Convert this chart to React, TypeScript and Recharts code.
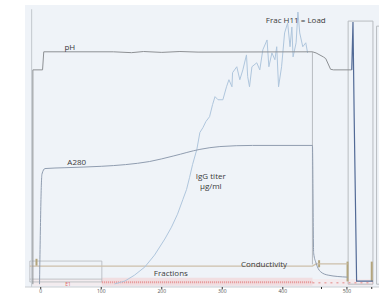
import React from 'react';
import {
  ComposedChart, Line, XAxis, YAxis, CartesianGrid, ReferenceArea, ReferenceLine, ReferenceDot,
} from 'recharts';

// x: run volume (ml), y: relative signal (% of full scale)
const phData = [
  { x: -13, y: 1 }, { x: -13, y: 77 }, { x: 3, y: 77 }, { x: 5, y: 83.4 },
  { x: 120, y: 83.4 }, { x: 150, y: 83.1 }, { x: 170, y: 83.5 }, { x: 200, y: 83.2 },
  { x: 230, y: 83.5 }, { x: 260, y: 83.3 }, { x: 449, y: 83.4 }, { x: 455, y: 83 },
  { x: 467, y: 81.6 }, { x: 471, y: 81 }, { x: 479, y: 77.2 }, { x: 484, y: 77 },
  { x: 514, y: 77 },
];
const washData = [
  { x: 514, y: 77 }, { x: 516, y: 94 }, { x: 518, y: 60 }, { x: 522, y: 2.1 }, { x: 549, y: 2.1 },
];
const a280Data = [
  { x: -2, y: 1 }, { x: 2, y: 40 }, { x: 7, y: 42 }, { x: 40, y: 42.3 }, { x: 100, y: 42.8 },
  { x: 140, y: 43.4 }, { x: 180, y: 44.5 }, { x: 220, y: 46.5 }, { x: 263, y: 48.8 },
  { x: 296, y: 49.8 }, { x: 350, y: 50.2 }, { x: 449, y: 50.2 }, { x: 451, y: 12 },
  { x: 455, y: 8.5 }, { x: 462, y: 5.5 }, { x: 475, y: 4.2 }, { x: 507, y: 3.5 },
];
const iggData = [
  { x: 122, y: 1.1 }, { x: 139, y: 2.1 }, { x: 155, y: 4.2 }, { x: 172, y: 7.1 }, { x: 188, y: 11.3 },
  { x: 205, y: 17 }, { x: 216, y: 21.2 }, { x: 226, y: 25.8 }, { x: 235, y: 31.1 }, { x: 241, y: 34.6 },
  { x: 246, y: 38.9 }, { x: 251, y: 43.5 }, { x: 258, y: 48.8 }, { x: 263, y: 54.8 }, { x: 268, y: 56.5 },
  { x: 273, y: 58.7 }, { x: 279, y: 60.4 }, { x: 284, y: 64.7 }, { x: 288, y: 67.5 }, { x: 293, y: 66.4 },
  { x: 301, y: 66.4 }, { x: 307, y: 71 }, { x: 311, y: 73.5 }, { x: 316, y: 71 }, { x: 317, y: 76 },
  { x: 324, y: 78.1 }, { x: 329, y: 73.5 }, { x: 334, y: 77 }, { x: 340, y: 82.3 }, { x: 342, y: 74.6 },
  { x: 345, y: 71 }, { x: 349, y: 78.1 }, { x: 357, y: 79.5 }, { x: 362, y: 77 }, { x: 367, y: 84.1 },
  { x: 374, y: 87.6 }, { x: 377, y: 78.1 }, { x: 382, y: 83 }, { x: 387, y: 80.6 }, { x: 390, y: 85.2 },
  { x: 393, y: 71 }, { x: 398, y: 78.1 }, { x: 403, y: 90.1 }, { x: 408, y: 93.6 }, { x: 412, y: 85.2 },
  { x: 415, y: 92.2 }, { x: 417, y: 81.6 }, { x: 422, y: 86.6 }, { x: 425, y: 97.5 }, { x: 428, y: 90.1 },
  { x: 433, y: 85.2 }, { x: 438, y: 86.6 }, { x: 441, y: 83 },
];
const condData = [
  { x: -18, y: 7.4 }, { x: 449, y: 7.4 }, { x: 455, y: 8.2 }, { x: 507, y: 8.2 },
];
const xTicks = [0, 100, 200, 300, 400, 464, 506, 547];
const xTickLabels: Record<number, string> = { 0: '0', 100: '100', 200: '200', 300: '300', 400: '400', 464: '', 506: '500', 547: '' };
const annotations = [
  { text: 'pH', x: 48, y: 85.2 },
  { text: 'A280', x: 59.5, y: 44.5 },
  { text: 'IgG titer', x: 281, y: 39.6 },
  { text: 'µg/ml', x: 281, y: 36.0 },
  { text: 'Frac H11 = Load', x: 421.5, y: 94.7 },
  { text: 'Conductivity', x: 369, y: 8.5 },
  { text: 'Fractions', x: 215, y: 5.3 },
];
const smallRed = [{ text: 'E1', x: 45, y: 1.2 }];

const FONT = "'Open Sans', 'Noto Sans', sans-serif";

export default function App() {
  return (
    <div style={{ position: 'absolute', left: 0, top: 0, background: '#fff' }}>
      <ComposedChart width={379} height={301} margin={{ top: 5, right: 0, left: 25, bottom: 0 }}>
        <CartesianGrid horizontal={false} vertical={false} fill="#eff3f8" />
        <XAxis
          type="number"
          dataKey="x"
          domain={[-26, 559]}
          ticks={xTicks}
          tickFormatter={(v: number) => xTickLabels[v] ?? ''}
          allowDataOverflow
          height={14}
          tickSize={2}
          tickMargin={0}
          axisLine={{ stroke: '#c9cdd2' }}
          tickLine={{ stroke: '#333' }}
          tick={{ fontSize: 5, fill: '#555', fontFamily: FONT }}
        />
        <YAxis type="number" domain={[0, 100]} hide allowDataOverflow />

        {/* fraction band */}
        <ReferenceArea x1={-13} x2={101} y1={0.4} y2={2.8} fill="#f8e6e6" stroke="none" ifOverflow="hidden" />
        <ReferenceArea x1={101} x2={449} y1={0.4} y2={3.3} fill="#f3c9c9" stroke="none" ifOverflow="hidden" />
        <ReferenceArea x1={449} x2={549} y1={0.4} y2={2.8} fill="#f7e3e3" stroke="none" ifOverflow="hidden" />
        <ReferenceLine segment={[{ x: 101, y: 1.7 }, { x: 449, y: 1.7 }]} stroke="#e69090" strokeWidth={2} strokeDasharray="1 1" ifOverflow="hidden" />
        <ReferenceLine segment={[{ x: 449, y: 1.5 }, { x: 549, y: 1.5 }]} stroke="#eaa8a8" strokeWidth={1.5} strokeDasharray="2 4" ifOverflow="hidden" />

        {/* boxes and guide lines */}
        <ReferenceArea x1={-18} x2={101} y1={1.8} y2={9.2} fill="none" stroke="#b4b8bc" strokeWidth={0.8} ifOverflow="hidden" />
        <ReferenceLine segment={[{ x: -18, y: 2.8 }, { x: 101, y: 2.8 }]} stroke="#b4b8bc" strokeWidth={0.8} ifOverflow="hidden" />
        <ReferenceLine segment={[{ x: -15, y: 0 }, { x: -15, y: 98.5 }]} stroke="#c2c8ce" strokeWidth={1} ifOverflow="hidden" />
        <ReferenceLine segment={[{ x: 449, y: 8 }, { x: 449, y: 83.4 }]} stroke="#a9adb2" strokeWidth={0.8} ifOverflow="hidden" />
        <ReferenceArea x1={508} x2={549} y1={1} y2={94.3} fill="none" stroke="#b8bcc0" strokeWidth={1} ifOverflow="hidden" />
        <ReferenceArea x1={555} x2={562} y1={1} y2={92.5} fill="none" stroke="#b8bcc0" strokeWidth={1} ifOverflow="hidden" />
        <ReferenceLine segment={[{ x: 507, y: 2 }, { x: 507, y: 9 }]} stroke="#b3a57d" strokeWidth={2} ifOverflow="hidden" />
        <ReferenceLine segment={[{ x: 547, y: 2 }, { x: 547, y: 9 }]} stroke="#b3a57d" strokeWidth={2} ifOverflow="hidden" />
        <ReferenceLine segment={[{ x: 460, y: 7 }, { x: 460, y: 9.5 }]} stroke="#b3a57d" strokeWidth={2} ifOverflow="hidden" />
        <ReferenceLine segment={[{ x: -7, y: 7.5 }, { x: -7, y: 10 }]} stroke="#b3a57d" strokeWidth={2} ifOverflow="hidden" />

        <Line data={condData} dataKey="y" type="linear" stroke="#cdc0aa" strokeWidth={1.2} dot={false} isAnimationActive={false} />
        <Line data={iggData} dataKey="y" type="linear" stroke="#afc6dd" strokeWidth={1} dot={false} isAnimationActive={false} />
        <Line data={a280Data} dataKey="y" type="monotone" stroke="#909db0" strokeWidth={1} dot={false} isAnimationActive={false} />
        <Line data={phData} dataKey="y" type="linear" stroke="#8d9094" strokeWidth={1} dot={false} isAnimationActive={false} />
        <Line data={washData} dataKey="y" type="linear" stroke="#526a96" strokeWidth={1.2} dot={false} isAnimationActive={false} />

        {annotations.map((a) => (
          <ReferenceDot
            key={a.text}
            x={a.x}
            y={a.y}
            r={0}
            ifOverflow="visible"
            shape={(p: any) => (
              <text x={p.cx} y={p.cy} textAnchor="middle" dominantBaseline="central" fontSize={8} fill="#3a3a3a" fontFamily={FONT}>
                {a.text}
              </text>
            )}
          />
        ))}
        {smallRed.map((a) => (
          <ReferenceDot
            key={a.text}
            x={a.x}
            y={a.y}
            r={0}
            ifOverflow="visible"
            shape={(p: any) => (
              <text x={p.cx} y={p.cy} textAnchor="middle" dominantBaseline="central" fontSize={5} fill="#e06a6a" fontFamily={FONT}>
                {a.text}
              </text>
            )}
          />
        ))}
      </ComposedChart>
    </div>
  );
}
